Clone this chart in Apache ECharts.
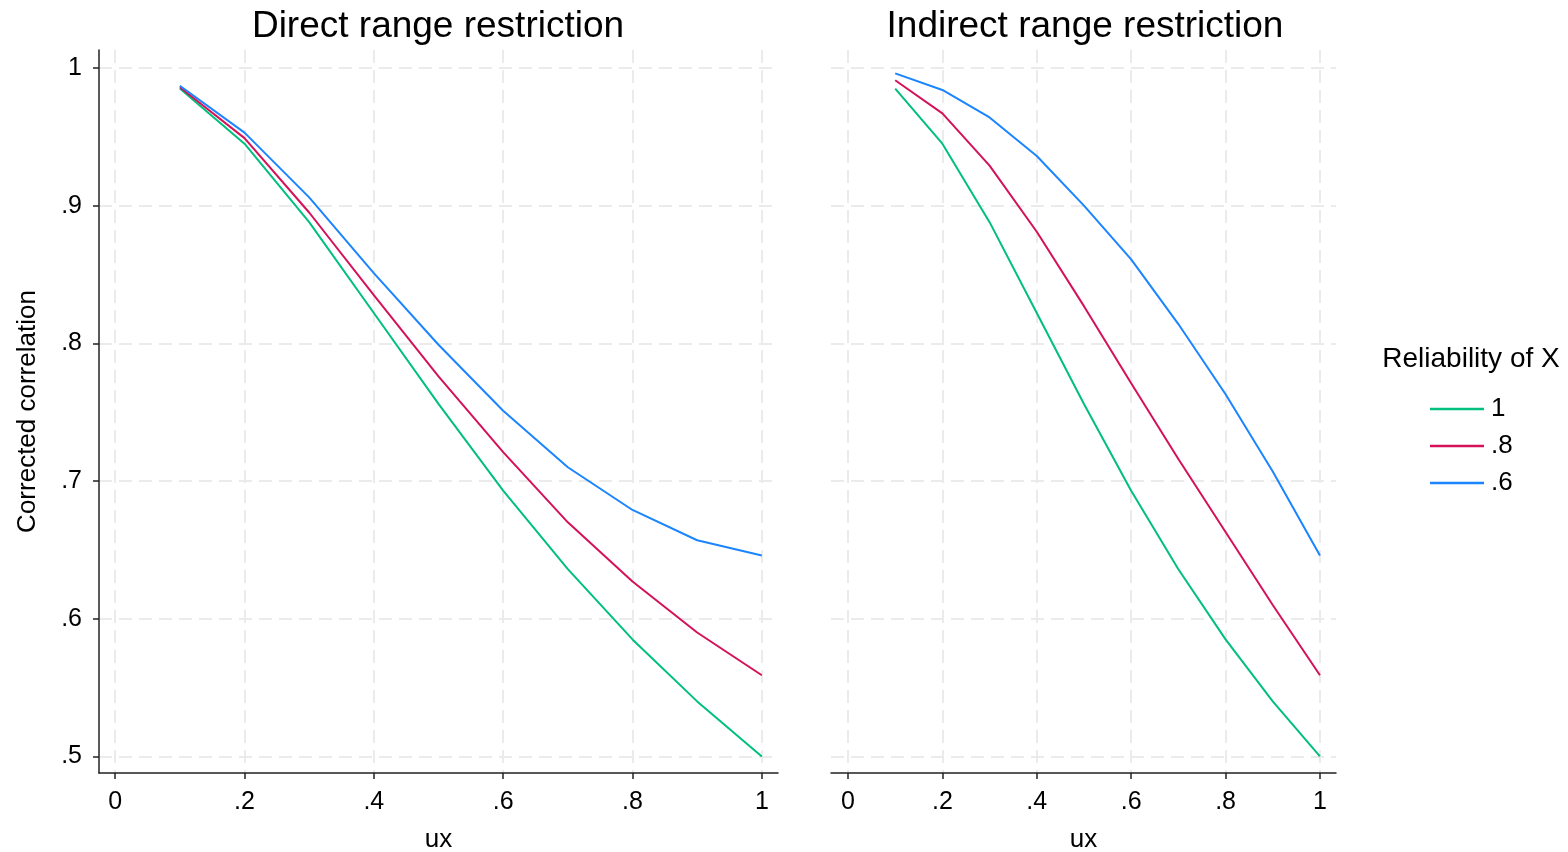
<!DOCTYPE html>
<html>
<head>
<meta charset="utf-8">
<script src="https://cdn.jsdelivr.net/npm/echarts@6/dist/echarts.min.js"></script>
<style>html,body{margin:0;padding:0;background:#fff}#c{width:1568px;height:852px}</style>
</head>
<body>
<div id="c"></div>
<script>
const ux = [0.1, 0.2, 0.3, 0.4, 0.5, 0.6, 0.7, 0.8, 0.9, 1.0];
const seriesNames = ['1', '.8', '.6'];
const directRel1  = [0.985, 0.945, 0.888, 0.822, 0.756, 0.693, 0.636, 0.585, 0.540, 0.500];
const directRel08 = [0.986, 0.949, 0.895, 0.835, 0.776, 0.721, 0.670, 0.627, 0.590, 0.559];
const directRel06 = [0.987, 0.953, 0.906, 0.851, 0.799, 0.751, 0.710, 0.679, 0.657, 0.646];
const indirectRel1  = [0.985, 0.945, 0.888, 0.822, 0.756, 0.693, 0.636, 0.585, 0.540, 0.500];
const indirectRel08 = [0.991, 0.967, 0.929, 0.881, 0.827, 0.771, 0.716, 0.663, 0.610, 0.559];
const indirectRel06 = [0.996, 0.984, 0.964, 0.936, 0.900, 0.861, 0.814, 0.763, 0.707, 0.646];
const xTicks = [0, 0.2, 0.4, 0.6, 0.8, 1];
const yTicks = [0.5, 0.6, 0.7, 0.8, 0.9, 1];
const titles = ['Direct range restriction', 'Indirect range restriction'];
const colors = ['#00bf7f', '#d41159', '#1a85ff'];

const FONT = "'Liberation Sans', Arial, Helvetica, sans-serif";
const fmt = v => {
  const r = Math.round(v * 10) / 10;
  if (r === 0) return '0';
  if (r === 1) return '1';
  return String(r).replace(/^0\./, '.');
};
const gridLine = { show: true, lineStyle: { color: '#ebebeb', width: 2, type: [13, 7] } };
const axisLineStyle = { color: '#222', width: 1.5 };

function xAxisFor(idx, min, max) {
  return {
    type: 'value', gridIndex: idx, min: min, max: max,
    name: 'ux', nameLocation: 'middle', nameGap: 54,
    nameTextStyle: { fontSize: 26, color: '#000', fontFamily: FONT },
    axisLine: { show: true, onZero: false, lineStyle: axisLineStyle },
    axisTick: { show: true, length: 6, lineStyle: axisLineStyle, customValues: xTicks },
    axisLabel: { show: true, fontSize: 25, color: '#000', fontFamily: FONT, margin: 17, customValues: xTicks, formatter: fmt },
    splitLine: gridLine
  };
}
function yAxisFor(idx, showAxis) {
  return {
    type: 'value', gridIndex: idx, min: 0.488, max: 1.013,
    name: showAxis ? 'Corrected correlation' : '', nameLocation: 'middle', nameGap: 58,
    nameTextStyle: { fontSize: 26, color: '#000', fontFamily: FONT },
    axisLine: { show: showAxis, onZero: false, lineStyle: axisLineStyle },
    axisTick: { show: showAxis, length: 6, lineStyle: axisLineStyle, customValues: yTicks },
    axisLabel: { show: showAxis, fontSize: 25, color: '#000', fontFamily: FONT, margin: 17, customValues: yTicks, formatter: fmt },
    splitLine: gridLine
  };
}
function mk(name, vals, idx, color) {
  return {
    type: 'line', name: name, xAxisIndex: idx, yAxisIndex: idx,
    data: ux.map((x, i) => [x, vals[i]]),
    symbol: 'none', showSymbol: false, silent: true,
    lineStyle: { color: color, width: 2 }, itemStyle: { color: color }
  };
}

const chart = echarts.init(document.getElementById('c'), null, { renderer: 'canvas' });
chart.setOption({
  animation: false,
  backgroundColor: '#fff',
  title: [
    { text: titles[0], left: 433, top: 3, textAlign: 'center', textStyle: { fontSize: 37, fontWeight: 'normal', color: '#000', fontFamily: FONT } },
    { text: titles[1], left: 1080, top: 3, textAlign: 'center', textStyle: { fontSize: 37, fontWeight: 'normal', color: '#000', fontFamily: FONT } },
    { text: 'Reliability of X', left: 1466, top: 340, textAlign: 'center', textStyle: { fontSize: 28, fontWeight: 'normal', color: '#000', fontFamily: FONT } }
  ],
  legend: {
    orient: 'vertical', left: 1425, top: 391, itemWidth: 54, itemHeight: 2.5, itemGap: 11,
    icon: 'rect',
    data: seriesNames, selectedMode: false,
    textStyle: { fontSize: 26, color: '#000', fontFamily: FONT, padding: [0, 0, 0, 2] }
  },
  grid: [
    { left: 99, right: 790, top: 50, bottom: 79, outerBoundsMode: 'none', containLabel: false },
    { left: 831, right: 232, top: 50, bottom: 79, outerBoundsMode: 'none', containLabel: false }
  ],
  xAxis: [xAxisFor(0, -0.025, 1.025), xAxisFor(1, -0.036, 1.034)],
  yAxis: [yAxisFor(0, true), yAxisFor(1, false)],
  series: [
    mk(seriesNames[0], directRel1, 0, colors[0]),
    mk(seriesNames[1], directRel08, 0, colors[1]),
    mk(seriesNames[2], directRel06, 0, colors[2]),
    mk(seriesNames[0], indirectRel1, 1, colors[0]),
    mk(seriesNames[1], indirectRel08, 1, colors[1]),
    mk(seriesNames[2], indirectRel06, 1, colors[2])
  ]
});
</script>
</body>
</html>
